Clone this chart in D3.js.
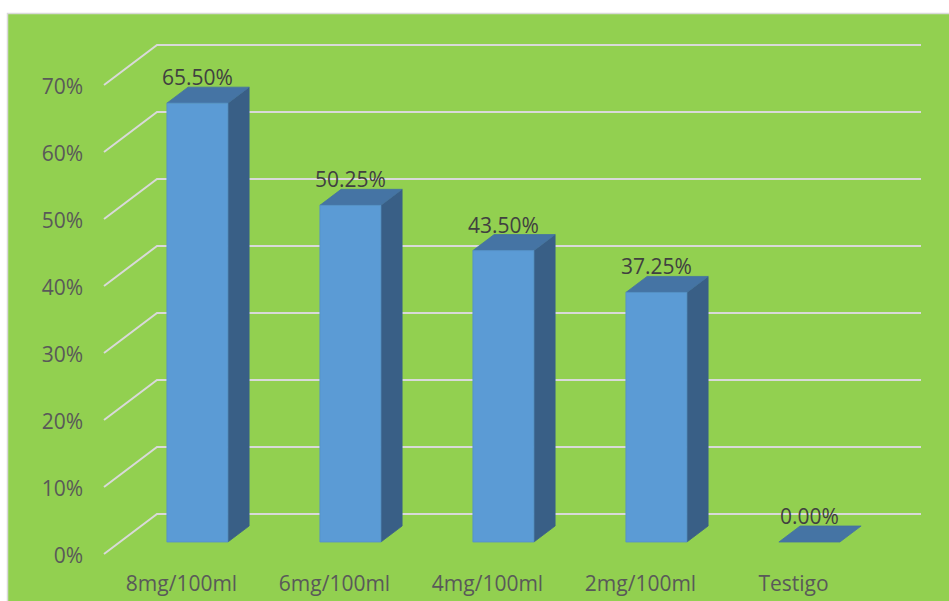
<!DOCTYPE html>
<html>
<head>
<meta charset="utf-8">
<script src="https://cdn.jsdelivr.net/npm/d3@7"></script>
<style>
  html, body { margin: 0; padding: 0; background: #ffffff; }
  svg { display: block; }
  text { font-family: "Open Sans", sans-serif; }
</style>
</head>
<body>
<svg id="chart" width="949" height="601"></svg>
<script>
// ---- data ----
const categories = ["8mg/100ml", "6mg/100ml", "4mg/100ml", "2mg/100ml", "Testigo"];
const values = [0.655, 0.5025, 0.435, 0.3725, 0.0];
const dataLabels = ["65.50%", "50.25%", "43.50%", "37.25%", "0.00%"];
const yTicks = [0, 0.1, 0.2, 0.3, 0.4, 0.5, 0.6, 0.7];
const yTickLabels = ["0%", "10%", "20%", "30%", "40%", "50%", "60%", "70%"];

// ---- layout ----
const svg = d3.select("#chart");
const W = 949, H = 601;

const floorFrontY = 554;      // y of 0% at front of floor
const depthDX = 53, depthDY = -40; // full depth offset
const frontLeftX = 104;       // left edge of floor at front
const backRightX = 921;       // right end of back gridlines
const barD0 = 0.3, barD1 = 0.7;   // bar depth span
const barHalf = 30.5;

// value scale (pixel height above floor)
const hScale = d3.scaleLinear().domain([0, 0.7]).range([0, 469]);
// category centers at front of floor
const xScale = d3.scalePoint().domain(categories).range([181.5, 181.5 + 153 * 4]);

function P(x, v, d) {
  return [x + depthDX * d, floorFrontY + depthDY * d - hScale(v)];
}

// background / chart area
svg.append("rect").attr("x", 7.5).attr("y", 13.5)
  .attr("width", W).attr("height", H)
  .attr("fill", "#92d050").attr("stroke", "#d9d9d9").attr("stroke-width", 1.5);

// gridlines: left wall diagonal + back wall horizontal
const grid = svg.append("g").attr("fill", "none")
  .attr("stroke", "#d9d9d9").attr("stroke-width", 2);
yTicks.forEach(t => {
  const a = P(frontLeftX, t, 0), b = P(frontLeftX, t, 1);
  grid.append("path")
    .attr("d", `M${a[0]},${a[1]}L${b[0]},${b[1]}L${backRightX},${b[1]}`);
});

// y-axis labels
svg.append("g").selectAll("text").data(yTicks).join("text")
  .attr("x", 83)
  .attr("y", t => P(frontLeftX, t, 0)[1] + 9)
  .attr("text-anchor", "end")
  .attr("font-size", 21)
  .attr("fill", "#595959")
  .text((t, i) => yTickLabels[i]);

// bars
const bars = svg.append("g");
categories.forEach((c, i) => {
  const cx = xScale(c), v = values[i];
  const xl = cx - barHalf, xr = cx + barHalf;
  const fbl = P(xl, 0, barD0), fbr = P(xr, 0, barD0);
  const ftl = P(xl, v, barD0), ftr = P(xr, v, barD0);
  const btl = P(xl, v, barD1), btr = P(xr, v, barD1);
  const bbr = P(xr, 0, barD1);
  const g = bars.append("g");
  const poly = pts => "M" + pts.map(p => p.join(",")).join("L") + "Z";
  if (v > 0) {
    g.append("path").attr("d", poly([fbr, ftr, btr, bbr]))
      .attr("fill", "#395f86").attr("stroke", "#3a6188").attr("stroke-width", 0.8);
  }
  g.append("path").attr("d", poly([ftl, ftr, btr, btl]))
    .attr("fill", "#4574a4").attr("stroke", "#4472a1").attr("stroke-width", 0.8);
  if (v > 0) {
    g.append("path").attr("d", poly([fbl, fbr, ftr, ftl]))
      .attr("fill", "#5b9bd5").attr("stroke", "#5590c8").attr("stroke-width", 0.8);
  }
  // data label
  svg.append("text")
    .attr("x", cx + depthDX * barD0)
    .attr("y", ftl[1] - 18)
    .attr("text-anchor", "middle")
    .attr("font-size", 21)
    .attr("fill", "#404040")
    .text(dataLabels[i]);
});

// category labels
svg.append("g").selectAll("text").data(categories).join("text")
  .attr("x", c => xScale(c))
  .attr("y", 591)
  .attr("text-anchor", "middle")
  .attr("font-size", 21)
  .attr("fill", "#595959")
  .text(c => c);
</script>
</body>
</html>
